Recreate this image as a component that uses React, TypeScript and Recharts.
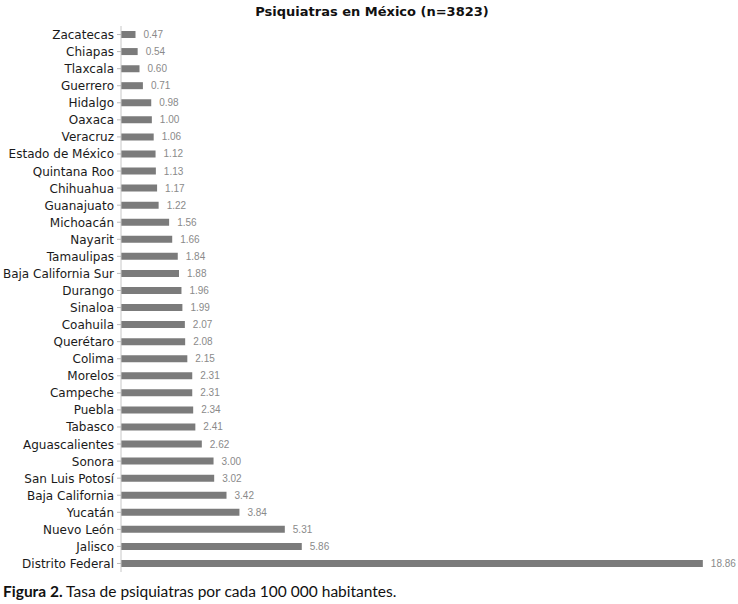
import React from 'react';
import { BarChart, Bar, XAxis, YAxis, LabelList } from 'recharts';

const estados = [
  'Zacatecas', 'Chiapas', 'Tlaxcala', 'Guerrero', 'Hidalgo', 'Oaxaca', 'Veracruz',
  'Estado de México', 'Quintana Roo', 'Chihuahua', 'Guanajuato', 'Michoacán', 'Nayarit',
  'Tamaulipas', 'Baja California Sur', 'Durango', 'Sinaloa', 'Coahuila', 'Querétaro',
  'Colima', 'Morelos', 'Campeche', 'Puebla', 'Tabasco', 'Aguascalientes', 'Sonora',
  'San Luis Potosí', 'Baja California', 'Yucatán', 'Nuevo León', 'Jalisco', 'Distrito Federal',
];

const tasas = [
  0.47, 0.54, 0.6, 0.71, 0.98, 1.0, 1.06, 1.12, 1.13, 1.17, 1.22, 1.56, 1.66, 1.84, 1.88,
  1.96, 1.99, 2.07, 2.08, 2.15, 2.31, 2.31, 2.34, 2.41, 2.62, 3.0, 3.02, 3.42, 3.84, 5.31,
  5.86, 18.86,
];

const data = estados.map((estado, i) => ({ estado, tasa: tasas[i] }));

// single-line tick so long names don't wrap
const EstadoTick = (props: any) => {
  const { x, y, payload } = props;
  return (
    <text x={x - 1} y={y} dy={4.5} textAnchor="end" fill="#1a1a1a" fontSize={12} fontFamily="DejaVu Sans, sans-serif">
      {payload.value}
    </text>
  );
};

export default function App() {
  return (
    <div style={{ position: 'absolute', left: 0, top: 0, width: 738, height: 604, background: '#fff' }}>
      <div style={{ position: 'absolute', top: 4, left: 0, width: 744, textAlign: 'center', fontWeight: 700, fontSize: 13, color: '#111', fontFamily: 'DejaVu Sans, sans-serif' }}>
        Psiquiatras en México (n=3823)
      </div>
      <div style={{ position: 'absolute', top: 0, left: 0 }}>
        <BarChart
          width={738}
          height={580}
          data={data}
          layout="vertical"
          margin={{ top: 26, right: 0, left: 0, bottom: 8 }}
          barCategoryGap={0}
        >
          <XAxis type="number" domain={[0, 20]} hide />
          <YAxis
            type="category"
            dataKey="estado"
            width={121}
            interval={0}
            axisLine={{ stroke: '#c8c8c8' }}
            tickLine={{ stroke: '#bbb' }}
            tickSize={4}
            tick={<EstadoTick />}
          />
          <Bar dataKey="tasa" fill="#7b7b7b" barSize={7} isAnimationActive={false}>
            <LabelList
              dataKey="tasa"
              position="right"
              offset={8}
              formatter={(v: number) => v.toFixed(2)}
              style={{ fill: '#8a8a8a', fontSize: 10, fontFamily: 'Liberation Sans, Arial, sans-serif' }}
            />
          </Bar>
        </BarChart>
      </div>
      <div style={{ position: 'absolute', top: 582, left: 3, fontSize: 15.5, color: '#111', fontFamily: 'Lato, sans-serif' }}>
        <span style={{ fontWeight: 700 }}>Figura 2.</span> Tasa de psiquiatras por cada 100 000 habitantes.
      </div>
    </div>
  );
}
